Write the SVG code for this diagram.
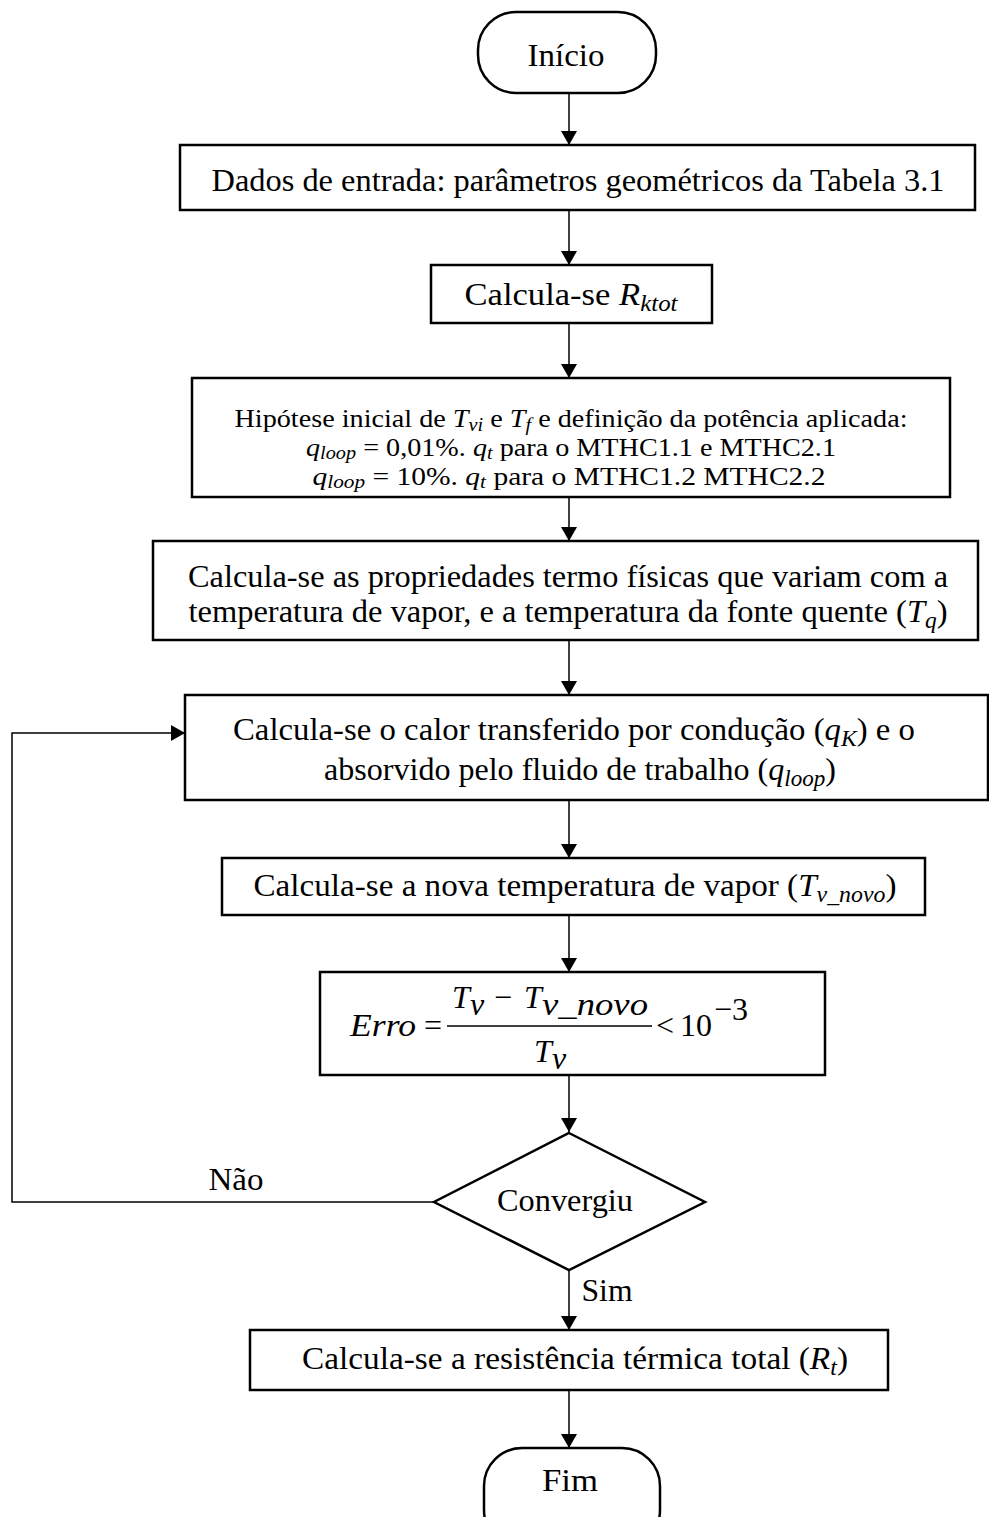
<svg xmlns="http://www.w3.org/2000/svg" width="989" height="1517" viewBox="0 0 989 1517">
  <style>
    .box { fill: #fff; stroke: #000; stroke-width: 2.5; }
    .wire { fill: none; stroke: #000; stroke-width: 1.5; }
    .t { font-family: "Liberation Serif", "Times New Roman", serif; font-size: 32px; fill: #000; text-anchor: middle; }
    .s { font-size: 25px; }
    .m { font-style: italic; }
    .sub { font-style: italic; font-size: 0.72em; }
    .st { text-anchor: start; }
  </style>
  <defs>
    <marker id="arrow" viewBox="0 0 14 16" refX="14" refY="8" markerWidth="14" markerHeight="16" markerUnits="userSpaceOnUse" orient="auto">
      <path d="M0,0 L14,8 L0,16 Z" fill="#000"/>
    </marker>
  </defs>

  <!-- connectors -->
  <g id="connectors">
    <line class="wire" x1="569" y1="93" x2="569" y2="145" marker-end="url(#arrow)"/>
    <line class="wire" x1="569" y1="210" x2="569" y2="265" marker-end="url(#arrow)"/>
    <line class="wire" x1="569" y1="323" x2="569" y2="378" marker-end="url(#arrow)"/>
    <line class="wire" x1="569" y1="497" x2="569" y2="541" marker-end="url(#arrow)"/>
    <line class="wire" x1="569" y1="640" x2="569" y2="695" marker-end="url(#arrow)"/>
    <line class="wire" x1="569" y1="800" x2="569" y2="858" marker-end="url(#arrow)"/>
    <line class="wire" x1="569" y1="915" x2="569" y2="972" marker-end="url(#arrow)"/>
    <line class="wire" x1="569" y1="1075" x2="569" y2="1132" marker-end="url(#arrow)"/>
    <line class="wire" x1="569" y1="1270" x2="569" y2="1330" marker-end="url(#arrow)"/>
    <line class="wire" x1="569" y1="1390" x2="569" y2="1448" marker-end="url(#arrow)"/>
    <polyline class="wire" points="434,1202 12,1202 12,733 185,733" marker-end="url(#arrow)"/>
    <text class="t" x="236" y="1190" textLength="55" lengthAdjust="spacingAndGlyphs">Não</text>
    <text class="t" x="607" y="1301" textLength="51" lengthAdjust="spacingAndGlyphs">Sim</text>
  </g>

  <g id="inicio">
    <rect class="box" x="478" y="12" width="178" height="81" rx="38" ry="38"/>
    <text class="t" x="566" y="66" textLength="77" lengthAdjust="spacingAndGlyphs">Início</text>
  </g>

  <g id="dados">
    <rect class="box" x="180" y="145" width="795" height="65"/>
    <text class="t" x="578" y="191" textLength="733" lengthAdjust="spacingAndGlyphs">Dados de entrada: parâmetros geométricos da Tabela 3.1</text>
  </g>

  <g id="rktot">
    <rect class="box" x="431" y="265" width="281" height="58"/>
    <text class="t" x="571" y="305" textLength="213" lengthAdjust="spacingAndGlyphs">Calcula-se <tspan class="m">R</tspan><tspan class="sub" dy="6">ktot</tspan></text>
  </g>

  <g id="hipotese">
    <rect class="box" x="192" y="378" width="758" height="119"/>
    <text class="t s" x="571" y="427" textLength="673" lengthAdjust="spacingAndGlyphs">Hipótese inicial de <tspan class="m">T</tspan><tspan class="sub" dy="4">vi</tspan><tspan dy="-4"> e </tspan><tspan class="m">T</tspan><tspan class="sub" dy="4">f</tspan><tspan dy="-4"> e definição da potência aplicada:</tspan></text>
    <text class="t s" x="571" y="456" textLength="530" lengthAdjust="spacingAndGlyphs"><tspan class="m">q</tspan><tspan class="sub" dy="3">loop</tspan><tspan dy="-3"> = 0,01%. </tspan><tspan class="m">q</tspan><tspan class="sub" dy="3">t</tspan><tspan dy="-3"> para o MTHC1.1 e MTHC2.1</tspan></text>
    <text class="t s" x="569" y="485" textLength="513" lengthAdjust="spacingAndGlyphs"><tspan class="m">q</tspan><tspan class="sub" dy="3">loop</tspan><tspan dy="-3"> = 10%. </tspan><tspan class="m">q</tspan><tspan class="sub" dy="3">t</tspan><tspan dy="-3"> para o MTHC1.2 MTHC2.2</tspan></text>
  </g>

  <g id="propriedades">
    <rect class="box" x="153" y="541" width="825" height="99"/>
    <text class="t" x="568" y="587" textLength="760" lengthAdjust="spacingAndGlyphs">Calcula-se as propriedades termo físicas que variam com a</text>
    <text class="t" x="568" y="622" textLength="759" lengthAdjust="spacingAndGlyphs">temperatura de vapor, e a temperatura da fonte quente (<tspan class="m">T</tspan><tspan class="sub" dy="6">q</tspan><tspan dy="-6">)</tspan></text>
  </g>

  <g id="calor">
    <rect class="box" x="185" y="695" width="803" height="105"/>
    <text class="t" x="574" y="740" textLength="682" lengthAdjust="spacingAndGlyphs">Calcula-se o calor transferido por condução (<tspan class="m">q</tspan><tspan class="sub" dy="6">K</tspan><tspan dy="-6">) e o</tspan></text>
    <text class="t" x="580" y="780" textLength="512" lengthAdjust="spacingAndGlyphs">absorvido pelo fluido de trabalho (<tspan class="m">q</tspan><tspan class="sub" dy="6">loop</tspan><tspan dy="-6">)</tspan></text>
  </g>

  <g id="tvnovo">
    <rect class="box" x="222" y="858" width="703" height="57"/>
    <text class="t" x="575" y="896" textLength="643" lengthAdjust="spacingAndGlyphs">Calcula-se a nova temperatura de vapor (<tspan class="m">T</tspan><tspan class="sub" dy="6">v_novo</tspan><tspan dy="-6">)</tspan></text>
  </g>

  <g id="erro">
    <rect class="box" x="320" y="972" width="505" height="103"/>
    <text class="t m st" x="350" y="1036" textLength="66" lengthAdjust="spacingAndGlyphs">Erro</text>
    <text class="t st" x="424" y="1036">=</text>
    <!-- numerator -->
    <text class="t m st" x="452" y="1008" font-size="30">T</text>
    <text class="t m st" x="470" y="1015" font-size="23">v</text>
    <text class="t st" x="494" y="1008" font-size="30">−</text>
    <text class="t m st" x="524" y="1008" font-size="30">T</text>
    <text class="t m st" x="542" y="1015" font-size="23" textLength="106" lengthAdjust="spacingAndGlyphs">v_novo</text>
    <line x1="447" y1="1026" x2="652" y2="1026" stroke="#000" stroke-width="1.5"/>
    <!-- denominator -->
    <text class="t m st" x="534" y="1062" font-size="30">T</text>
    <text class="t m st" x="552" y="1069" font-size="23">v</text>
    <text class="t st" x="656" y="1036">&lt;</text>
    <text class="t st" x="680" y="1036">10</text>
    <text class="t st" x="714" y="1020" font-size="21">−3</text>
  </g>

  <g id="convergiu">
    <polygon class="box" points="569,1133 705,1202 569,1270 434,1202"/>
    <text class="t" x="565" y="1211" textLength="136" lengthAdjust="spacingAndGlyphs">Convergiu</text>
  </g>

  <g id="resistencia">
    <rect class="box" x="250" y="1330" width="638" height="60"/>
    <text class="t" x="575" y="1369" textLength="546" lengthAdjust="spacingAndGlyphs">Calcula-se a resistência térmica total (<tspan class="m">R</tspan><tspan class="sub" dy="6">t</tspan><tspan dy="-6">)</tspan></text>
  </g>

  <g id="fim">
    <rect class="box" x="484" y="1448" width="176" height="100" rx="38" ry="38"/>
    <text class="t" x="570" y="1491" textLength="56" lengthAdjust="spacingAndGlyphs">Fim</text>
  </g>
</svg>
